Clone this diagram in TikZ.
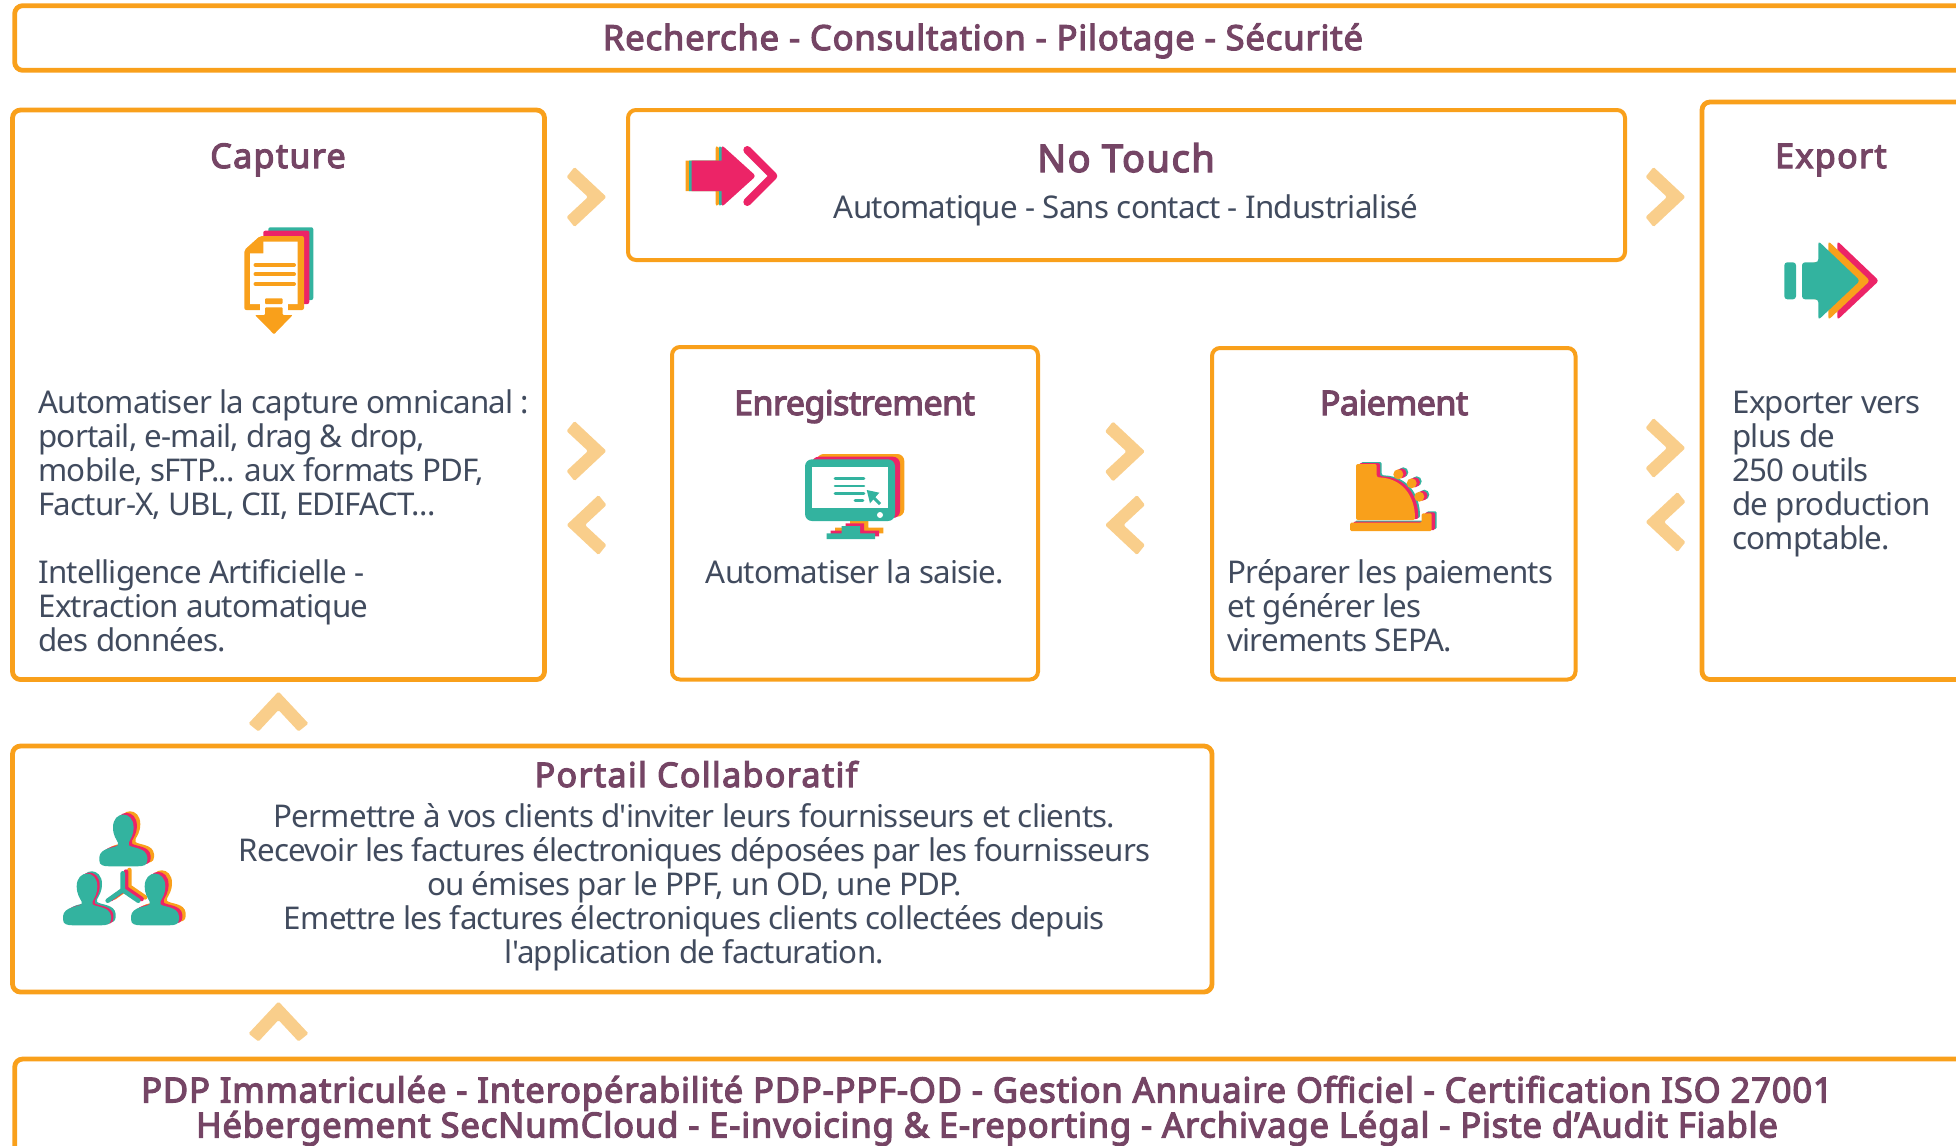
\documentclass[tikz,border=0pt]{standalone}
\usepackage{fontspec}
\setmainfont{Noto Sans}
\newfontfamily\tightfont[LetterSpace=-2.5]{Noto Sans}
\newfontfamily\bandfont[FakeBold=3.5,LetterSpace=2.4]{Noto Sans}
\newfontfamily\headfont[FakeBold=3.5,LetterSpace=4]{Noto Sans}
\newfontfamily\tightheadfont[FakeBold=3.5,LetterSpace=-1.5]{Noto Sans}
\definecolor{frameorange}{HTML}{F9A01B}
\definecolor{chevronorange}{HTML}{F9CE8B}
\definecolor{headplum}{HTML}{754565}
\definecolor{bodyslate}{HTML}{414B5E}
\definecolor{iconpink}{HTML}{EC2467}
\definecolor{iconteal}{HTML}{33B39F}
\tikzset{
  panel/.style={draw=frameorange,line width=2.4pt,rounded corners=4pt,anchor=north west,inner sep=0pt,outer sep=0pt},
  thinpanel/.style={panel,line width=2pt},
  chevron/.style={fill=chevronorange,rounded corners=.7pt},
  bandtext/.style={anchor=base,text=headplum,font=\bandfont\fontsize{17.3}{17.5}\selectfont,align=center,inner sep=0pt},
  headtext/.style={anchor=base,text=headplum,font=\headfont\fontsize{17}{17}\selectfont,inner sep=0pt},
  tighthead/.style={headtext,font=\tightheadfont\fontsize{17}{17}\selectfont},
  bodytext/.style={text=bodyslate,font=\tightfont\fontsize{15.65}{17}\selectfont,inner sep=0pt}
}
\newcommand{\nextarrow}[3]{% x, y, rotation
  \fill[chevron,shift={(#1,#2)},rotate=#3] (-20,-20) -- (-12,-30) -- (20,0) -- (-12,30) -- (-20,20) -- (1.5,0) -- cycle;}
\newcommand{\bigarrow}[3]{% x shift, y shift, colour
  \fill[#3,rounded corners=1.5pt,shift={(#1,#2)}] (1802,262.3) -- (1818.3,262.3) -- (1818.3,241) -- (1860,280.7) -- (1818.3,320) -- (1818.3,299.3) -- (1802,299.3) -- cycle;}
\newcommand{\swiftarrow}[3]{%
  \fill[#3,shift={(#1,#2)}] (691.7,160.7) -- (721.7,160.7) [rounded corners=1.5pt] -- (721.7,145) -- (756,176) -- (721.7,207) [sharp corners] -- (721.7,191) -- (691.7,191) -- cycle;}
\newcommand{\screenstand}[3]{%
  \fill[#3,shift={(#1,#2)}] (826.7,539) -- (875,539) -- (875,533.3) -- (860,533.3) -- (860,526) -- (841.7,526) -- (841.7,533.3) -- (826.7,533.3) -- cycle;}
\newcommand{\tillshape}[3]{%
  \begin{scope}[shift={(#1,#2)}]
    \fill[#3,rounded corners=1pt] (1356,520) -- (1356,464) -- (1376.7,464) -- (1376.7,477.3) .. controls (1403,478) and (1415,497) .. (1415,520) -- cycle;
    \fill[#3,rounded corners=.7pt] (1350,522.7) -- (1421.7,522.7) -- (1421.7,513.3) -- (1431.7,513.3) -- (1431.7,531) -- (1350,531) -- cycle;
    \fill[#3] (1398.3,474.3) circle (5) (1411.7,483.3) circle (5) (1419.3,496.7) circle (5);
  \end{scope}}
\newcommand{\personshape}[3]{%
  \begin{scope}[shift={(#1,#2)}]
    \fill[#3] (-10.3,-2) .. controls (-10.3,-19) and (10.3,-19) .. (10.3,-2) .. controls (10.3,6) and (7,10) .. (5.5,13) -- (5.5,16) .. controls (9,19) and (23,18) .. (24,28) -- (24,31) .. controls (24,36) and (20,37) .. (14,37) -- (-14,37) .. controls (-20,37) and (-24,36) .. (-24,31) -- (-24,28) .. controls (-23,18) and (-9,19) .. (-5.5,16) -- (-5.5,13) .. controls (-7,10) and (-10.3,6) .. (-10.3,-2) -- cycle;
  \end{scope}}
\newcommand{\forkshape}[3]{%
  \draw[#3,line width=2.3pt,line cap=round,shift={(#1,#2)}] (121.7,873.3) -- (121.7,890) (106.7,900.7) -- (121.7,890) -- (137.3,900.7);}
\begin{document}
\begin{tikzpicture}[x=0.5pt,y=-0.5pt]
\useasboundingbox (0,0) rectangle (1956,1146);
% frames
\node[panel,minimum width=2000*0.5pt,minimum height=64.6*0.5pt] (toolband) at (14.7,5.7) {};
\node[panel,minimum width=532*0.5pt,minimum height=569.5*0.5pt] (capturebox) at (12.5,110) {};
\node[thinpanel,minimum width=997*0.5pt,minimum height=150*0.5pt] (notouchbox) at (628,110) {};
\node[panel,minimum width=400*0.5pt,minimum height=577.5*0.5pt] (exportbox) at (1702,102) {};
\node[thinpanel,minimum width=366*0.5pt,minimum height=332.5*0.5pt] (entrybox) at (672,347) {};
\node[thinpanel,minimum width=363.5*0.5pt,minimum height=331.5*0.5pt] (paybox) at (1212,348) {};
\node[panel,minimum width=1199.5*0.5pt,minimum height=246*0.5pt] (portalbox) at (12.5,746) {};
\node[panel,minimum width=2000*0.5pt,minimum height=150*0.5pt] (legalband) at (14.7,1059) {};
% chevrons
\nextarrow{586.5}{197}{0}
\nextarrow{1665.5}{197}{0}
\nextarrow{586.5}{451}{0}
\nextarrow{586.5}{525}{180}
\nextarrow{1125}{451.5}{0}
\nextarrow{1125}{525}{180}
\nextarrow{1665.5}{448}{0}
\nextarrow{1665.5}{522}{180}
\nextarrow{278.5}{711.5}{90}
\nextarrow{278.5}{1021.5}{90}
% capture icon
\fill[iconteal,rounded corners=1pt] (268.3,227.3) -- (313.3,227.3) -- (313.3,300) -- (268.3,300) -- cycle;
\fill[iconpink,rounded corners=1pt] (263.3,230.7) -- (309.3,230.7) -- (309.3,304) -- (263.3,304) -- cycle;
\fill[frameorange,rounded corners=1pt] (260,236) -- (304,236) -- (304,310) -- (244.3,310) -- (244.3,250) -- cycle;
\fill[white] (263.3,241.7) -- (297.7,241.7) -- (297.7,304) -- (250,304) -- (250,253.3) -- (263.3,253.3) -- cycle;
\fill[white] (260,304) rectangle (288,311);
\foreach \ybar in {265,274.3,284}
  \draw[frameorange,line width=2pt,line cap=round] (255.5,\ybar) -- (294,\ybar);
\fill[frameorange,rounded corners=.5pt] (265,298.3) rectangle (282.7,304);
\fill[frameorange,rounded corners=.5pt] (265,307.3) -- (282.7,307.3) -- (282.7,315) -- (292.7,315) -- (274,334.3) -- (255,315) -- (265,315) -- cycle;
% no touch icon
\swiftarrow{-6}{0}{frameorange}
\swiftarrow{-2.7}{0}{iconteal}
\swiftarrow{0}{0}{iconpink}
\draw[iconpink,line width=4pt,line cap=round,line join=round] (747.3,150) -- (773.3,176) -- (747.3,202);
% export icon
\fill[iconteal,rounded corners=1.5pt] (1784.3,262.3) rectangle (1796,299.3);
\bigarrow{19}{0}{iconpink}
\bigarrow{10}{0}{frameorange}
\bigarrow{0}{0}{iconteal}
% entry icon
\screenstand{8.3}{-5.7}{frameorange}
\screenstand{4}{-2.7}{iconpink}
\screenstand{0}{0}{iconteal}
\fill[frameorange,rounded corners=3.5pt] (816.7,454) rectangle (904.3,516.7);
\fill[iconpink,rounded corners=3.5pt] (811.7,456.7) rectangle (900,518);
\fill[iconteal,rounded corners=3.5pt] (805,459.3) rectangle (895,521);
\fill[white] (811.7,466.7) rectangle (887.7,508.3);
\fill[white] (880,515) circle (3);
\foreach \ybar in {478.7,486,493.3}
  \draw[iconteal,line width=1.3pt,line cap=round] (835,\ybar) -- (864,\ybar);
\draw[iconteal,line width=1.3pt,line cap=round] (855,500.7) -- (863,500.7);
\fill[iconteal] (866.7,490) -- (879.3,492.7) -- (870,503.3) -- cycle;
\draw[iconteal,line width=1.5pt] (872,496) -- (880,504);
% pay icon
\tillshape{5}{-2}{iconteal}
\tillshape{3.3}{-1}{iconpink}
\tillshape{0}{0}{frameorange}
% portal icon
\forkshape{7.7}{-3.3}{frameorange}
\forkshape{4.3}{-1.7}{iconpink}
\forkshape{1}{0}{iconteal}
\personshape{130}{826}{frameorange}
\personshape{126.6}{827.6}{iconpink}
\personshape{123.3}{829.3}{iconteal}
\personshape{91.7}{886}{iconteal}
\personshape{89.4}{887.3}{iconpink}
\personshape{87}{888.3}{iconteal}
\personshape{161.7}{885}{frameorange}
\personshape{158.3}{886.6}{iconpink}
\personshape{155}{888.3}{iconteal}
% labels
\node[bandtext] (tooltext) at (983,50) {Recherche - Consultation - Pilotage - Sécurité};
\node[headtext] (capturetitle) at (278,168) {Capture};
\node[headtext,font=\headfont\fontsize{19}{20}\selectfont] (notouchtitle) at (1126,172) {No Touch};
\node[bodytext,anchor=base] (notouchtext) at (1126,218) {Automatique - Sans contact - Industrialisé};
\node[headtext] (exporttitle) at (1831,168) {Export};
\node[tighthead] (entrytitle) at (854.5,415) {Enregistrement};
\node[tighthead] (paytitle) at (1394,415) {Paiement};
\node[headtext] (portaltitle) at (696,787) {Portail Collaboratif};
\node[bodytext,anchor=north west,align=left] (capturetext) at (38,389.2) {Automatiser la capture omnicanal :\\portail, e-mail, drag \& drop,\\mobile, sFTP... aux formats PDF,\\Factur-X, UBL, CII, EDIFACT...\\[17pt]Intelligence Artificielle -\\Extraction automatique\\des données.};
\node[bodytext,anchor=base] (entrytext) at (855,583.7) {Automatiser la saisie.};
\node[bodytext,anchor=north west,align=left] (paytext) at (1227,559.2) {Préparer les paiements\\et générer les\\virements SEPA.};
\node[bodytext,anchor=north west,align=left] (exporttext) at (1732,390.5) {Exporter vers\\plus de\\250 outils\\de production\\comptable.};
\node[bodytext,anchor=north,align=center] (portaltext) at (694.4,803.2) {Permettre à vos clients d'inviter leurs fournisseurs et clients.\\Recevoir les factures électroniques déposées par les fournisseurs\\ou émises par le PPF, un OD, une PDP.\\Emettre les factures électroniques clients collectées depuis\\l'application de facturation.};
\node[bandtext,anchor=north] (legaltext) at (987,1075.5) {PDP Immatriculée - Interopérabilité PDP-PPF-OD - Gestion Annuaire Officiel - Certification ISO 27001\\Hébergement SecNumCloud - E-invoicing \& E-reporting - Archivage Légal - Piste d’Audit Fiable};
\end{tikzpicture}
\end{document}
